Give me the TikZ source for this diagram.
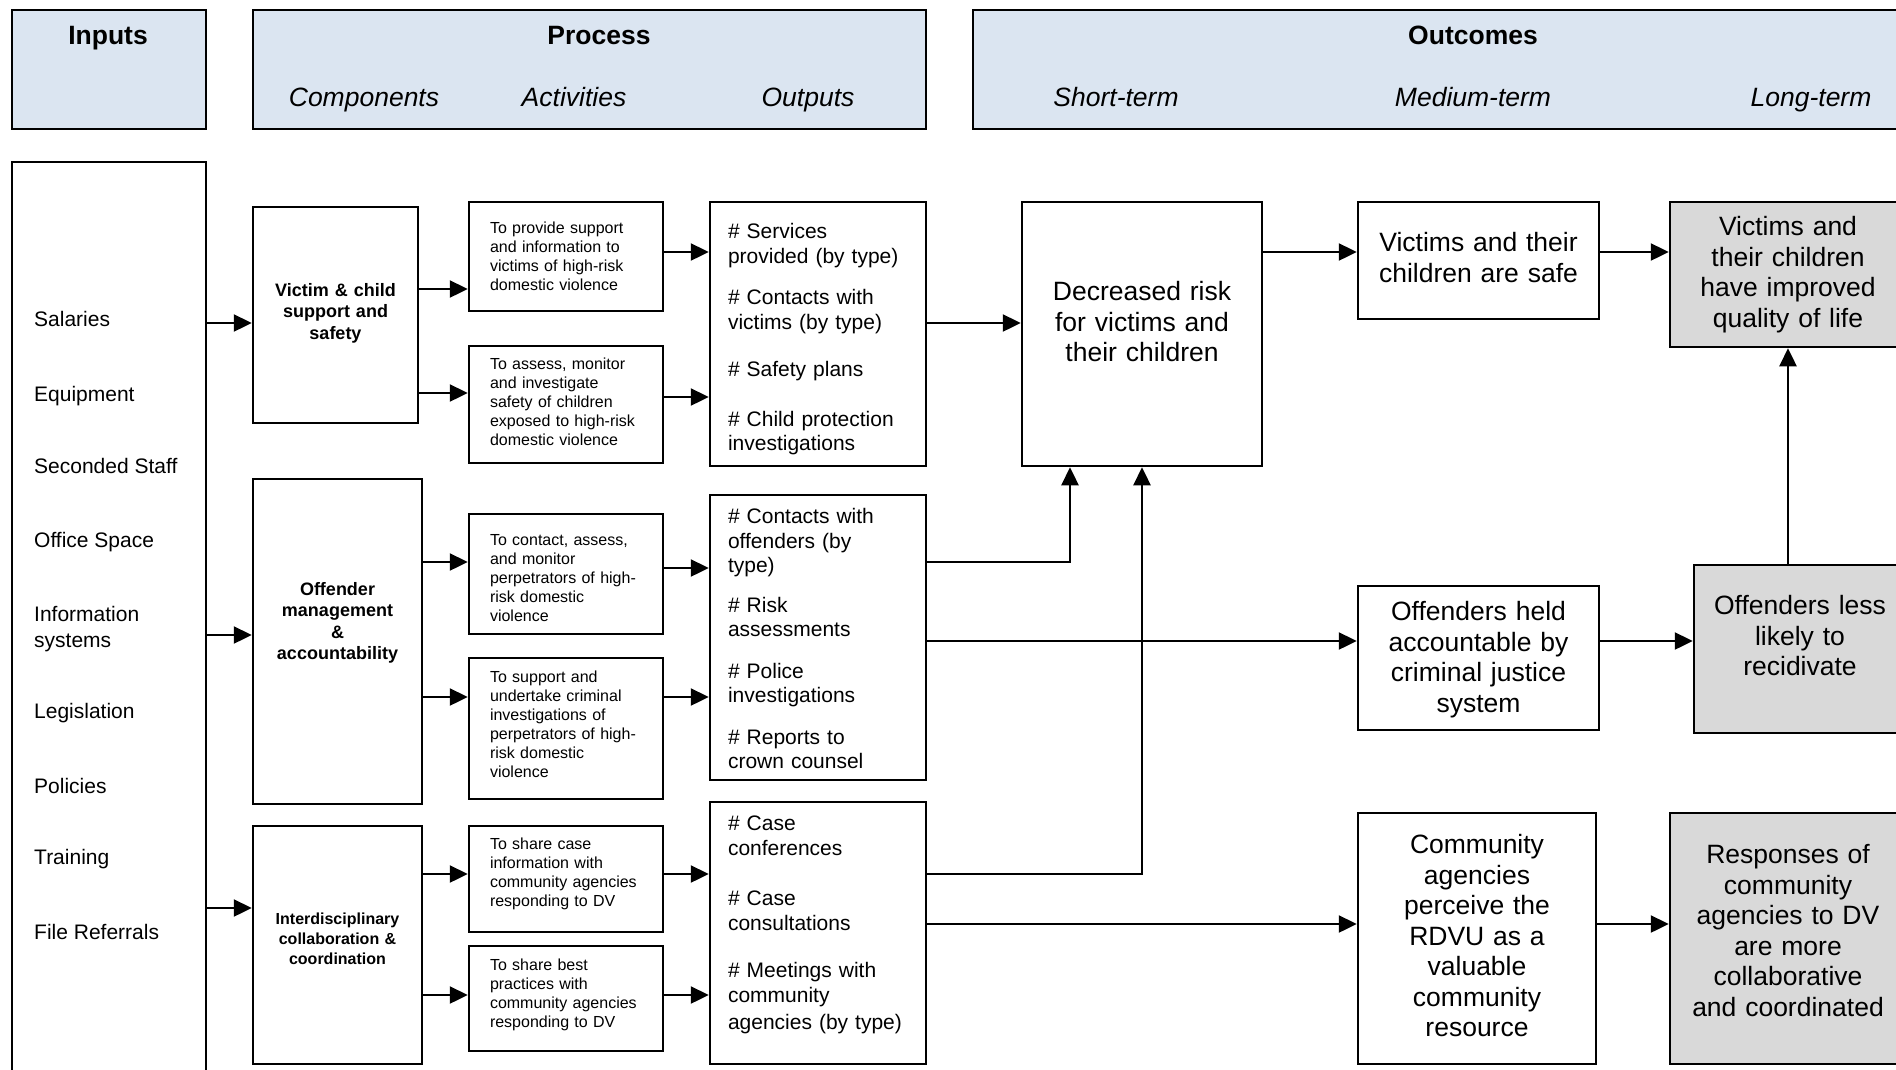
\documentclass[tikz,border=0pt]{standalone}
\usepackage{fontspec}
\setmainfont{Liberation Sans}
\usetikzlibrary{arrows.meta,calc}
\definecolor{hdrblue}{HTML}{DBE5F1}
\definecolor{outgrey}{HTML}{D9D9D9}
\tikzset{
  box/.style={draw, line width=2.5pt, inner sep=0pt},
  hdr/.style={box, fill=hdrblue},
  longbox/.style={box, fill=outgrey},
  arr/.style={line width=2.4pt, -{Triangle[length=18pt,width=17pt]}},
  tb/.style={text height=0pt, text depth=#1},
  hfont/.style={font=\fontsize{26.5}{30.5}\selectfont},
  otext/.style={hfont, align=center, text width=#1},
  otext/.default=225pt,
  ifont/.style={font=\fontsize{21}{26}\selectfont},
  cfont/.style={font=\bfseries\fontsize{18}{21.5}\selectfont, align=center, text width=150pt},
  afont/.style={font=\fontsize{16}{19}\selectfont, text width=152pt, align=left},
  ofont/.style={font=\fontsize{21}{24.5}\selectfont, text width=180pt, align=left},
}
\begin{document}
\begin{tikzpicture}[x=1pt, y=-1pt]
    \useasboundingbox (0,0) rectangle (1896,1069);
    \clip (0,0) rectangle (1896,1069);

    % header bands
    \node[hdr, minimum width=194pt, minimum height=119pt] (hIn) at (109,69.5) {};
    \node[hdr, minimum width=673pt, minimum height=119pt] (hPr) at (589.5,69.5) {};
    \node[hdr, minimum width=1000pt, minimum height=119pt] (hOut) at (1473,69.5) {};
    \node[font=\bfseries\fontsize{26.5}{30.5}\selectfont, anchor=base] (tIn) at (108,44) {Inputs};
    \node[font=\bfseries\fontsize{26.5}{30.5}\selectfont, anchor=base] (tPr) at (599,44) {Process};
    \node[font=\bfseries\fontsize{26.5}{30.5}\selectfont, anchor=base] (tOut) at (1473,44) {Outcomes};
    \node[font=\itshape\fontsize{26.5}{30.5}\selectfont, anchor=base] (tComp) at (364,106.5) {Components};
    \node[font=\itshape\fontsize{26.5}{30.5}\selectfont, anchor=base] (tAct) at (574,106.5) {Activities};
    \node[font=\itshape\fontsize{26.5}{30.5}\selectfont, anchor=base] (tOutp) at (808,106.5) {Outputs};
    \node[font=\itshape\fontsize{26.5}{30.5}\selectfont, anchor=base] (tShort) at (1116,106.5) {Short-term};
    \node[font=\itshape\fontsize{26.5}{30.5}\selectfont, anchor=base] (tMed) at (1473,106.5) {Medium-term};
    \node[font=\itshape\fontsize{26.5}{30.5}\selectfont, anchor=base] (tLong) at (1811,106.5) {Long-term};

    % inputs
    \node[box, minimum width=194pt, minimum height=918pt] (inp) at (109,621) {};
    \foreach \yb/\t [count=\i] in {326.5/Salaries, 401.5/Equipment, 473.5/Seconded Staff,
        547.5/Office Space, 647/Information\\systems, 718.5/Legislation,
        793.5/Policies, 864.5/Training, 939.5/File Referrals}
      \node[ifont, anchor=base west, align=left, inner sep=0pt] (in\i) at (34,\yb) {\t};

    % components
    \node[box, cfont, tb=38pt, minimum width=165pt, minimum height=216pt] (C1) at (335.5,315)
        {Victim \& child\\support and\\safety};
    \node[box, cfont, tb=93pt, minimum width=169pt, minimum height=325pt] (C2) at (337.5,641.5)
        {Offender\\management\\\&\\accountability};
    \node[box, cfont, font=\bfseries\fontsize{16}{20}\selectfont, tb=42pt, minimum width=169pt, minimum height=238pt] (C3) at (337.5,945)
        {Interdisciplinary\\collaboration \&\\coordination};

    % activities
    \node[box, afont, tb=47pt, minimum width=194pt, minimum height=109pt] (A1) at (566,256.5)
        {To provide support\\and information to\\victims of high-risk\\domestic violence};
    \node[box, afont, tb=71pt, minimum width=194pt, minimum height=117pt] (A2) at (566,404.5)
        {To assess, monitor\\and investigate\\safety of children\\exposed to high-risk\\domestic violence};
    \node[box, afont, tb=58pt, minimum width=194pt, minimum height=120pt] (A3) at (566,574)
        {To contact, assess,\\and monitor\\perpetrators of high-\\risk domestic\\violence};
    \node[box, afont, tb=93pt, minimum width=194pt, minimum height=141pt] (A4) at (566,728.5)
        {To support and\\undertake criminal\\investigations of\\perpetrators of high-\\risk domestic\\violence};
    \node[box, afont, tb=60pt, minimum width=194pt, minimum height=106pt] (A5) at (566,879)
        {To share case\\information with\\community agencies\\responding to DV};
    \node[box, afont, tb=57pt, minimum width=194pt, minimum height=105pt] (A6) at (566,998.5)
        {To share best\\practices with\\community agencies\\responding to DV};

    % outputs
    \node[box, ofont, tb=191pt, minimum width=216pt, minimum height=264pt] (O1) at (818,334)
        {\# Services\\provided (by type)\\[17pt]\# Contacts with\\victims (by type)\\[23pt]\# Safety plans\\[25pt]\# Child protection\\investigations};
    \node[box, ofont, tb=228pt, minimum width=216pt, minimum height=285pt] (O2) at (818,637.5)
        {\# Contacts with\\offenders (by\\type)\\[15pt]\# Risk\\assessments\\[17pt]\# Police\\investigations\\[17pt]\# Reports to\\crown counsel};
    \node[box, ofont, tb=205pt, minimum width=216pt, minimum height=262pt] (O3) at (818,933)
        {\# Case\\conferences\\[26pt]\# Case\\consultations\\[23pt]\# Meetings with\\community\\[3pt]agencies (by type)};

    % outcomes
    \node[box, otext, tb=67pt, minimum width=240pt, minimum height=264pt] (S1) at (1142,334)
        {Decreased risk\\for victims and\\their children};
    \node[box, otext, tb=18pt, minimum width=241pt, minimum height=117pt] (M1) at (1478.5,260.5)
        {Victims and their\\children are safe};
    \node[box, otext, tb=75pt, minimum width=241pt, minimum height=144pt] (M2) at (1478.5,658)
        {Offenders held\\accountable by\\criminal justice\\system};
    \node[box, otext, tb=170pt, minimum width=238pt, minimum height=251pt] (M3) at (1477,938.5)
        {Community\\agencies\\perceive the\\RDVU as a\\valuable\\community\\resource};
    \node[longbox, otext, tb=78pt, minimum width=236pt, minimum height=145pt] (L1) at (1788,274.5)
        {Victims and\\their children\\have improved\\quality of life};
    \node[longbox, otext=205pt, tb=69pt, minimum width=212pt, minimum height=168pt] (L2) at (1800,649)
        {Offenders less\\likely to\\recidivate};
    \node[longbox, otext, tb=150pt, minimum width=236pt, minimum height=251pt] (L3) at (1788,938.5)
        {Responses of\\community\\agencies to DV\\are more\\collaborative\\and coordinated};

    % inputs -> components -> activities
    \draw[arr] ([yshift=-8pt]C1.west -| inp.east) -- ([yshift=-8pt]C1.west);
    \draw[arr] ([yshift=6.5pt]C2.west -| inp.east) -- ([yshift=6.5pt]C2.west);
    \draw[arr] ([yshift=37pt]C3.west -| inp.east) -- ([yshift=37pt]C3.west);
    \draw[arr] ([yshift=-32.5pt]A1.west -| C1.east) -- ([yshift=-32.5pt]A1.west);
    \draw[arr] ([yshift=11.5pt]A2.west -| C1.east) -- ([yshift=11.5pt]A2.west);
    \draw[arr] ([yshift=12pt]A3.west -| C2.east) -- ([yshift=12pt]A3.west);
    \draw[arr] ([yshift=31.5pt]A4.west -| C2.east) -- ([yshift=31.5pt]A4.west);
    \draw[arr] ([yshift=5pt]A5.west -| C3.east) -- ([yshift=5pt]A5.west);
    \draw[arr] ([yshift=3.5pt]A6.west -| C3.east) -- ([yshift=3.5pt]A6.west);

    % activities -> outputs
    \draw[arr] ([yshift=4.5pt]A1.east) -- ([yshift=4.5pt]A1.east -| O1.west);
    \draw[arr] ([yshift=7.5pt]A2.east) -- ([yshift=7.5pt]A2.east -| O1.west);
    \draw[arr] ([yshift=6pt]A3.east) -- ([yshift=6pt]A3.east -| O2.west);
    \draw[arr] ([yshift=31.5pt]A4.east) -- ([yshift=31.5pt]A4.east -| O2.west);
    \draw[arr] ([yshift=5pt]A5.east) -- ([yshift=5pt]A5.east -| O3.west);
    \draw[arr] ([yshift=3.5pt]A6.east) -- ([yshift=3.5pt]A6.east -| O3.west);

    % outputs -> outcomes
    \draw[arr] ([yshift=11pt]O1.east) -- ([yshift=11pt]O1.east -| S1.west);
    \draw[arr] ([yshift=75.5pt]O2.east) -| ([xshift=-72pt]S1.south);
    \draw[arr] ([yshift=59pt]O3.east) -| (S1.south);
    \draw[arr] ([yshift=-3.5pt]O2.east) -- ([yshift=-3.5pt]O2.east -| M2.west);
    \draw[arr] ([yshift=9pt]O3.east) -- ([yshift=9pt]O3.east -| M3.west);
    \draw[arr] ([yshift=82pt]S1.east) -- ([yshift=82pt]S1.east -| M1.west);
    \draw[arr] ([yshift=8.5pt]M1.east) -- ([yshift=8.5pt]M1.east -| L1.west);
    \draw[arr] ([yshift=17pt]M2.east) -- ([yshift=17pt]M2.east -| L2.west);
    \draw[arr] ([yshift=14.5pt]M3.east) -- ([yshift=14.5pt]M3.east -| L3.west);
    \draw[arr] (L2.north -| L1.south) -- (L1.south);
\end{tikzpicture}
\end{document}
